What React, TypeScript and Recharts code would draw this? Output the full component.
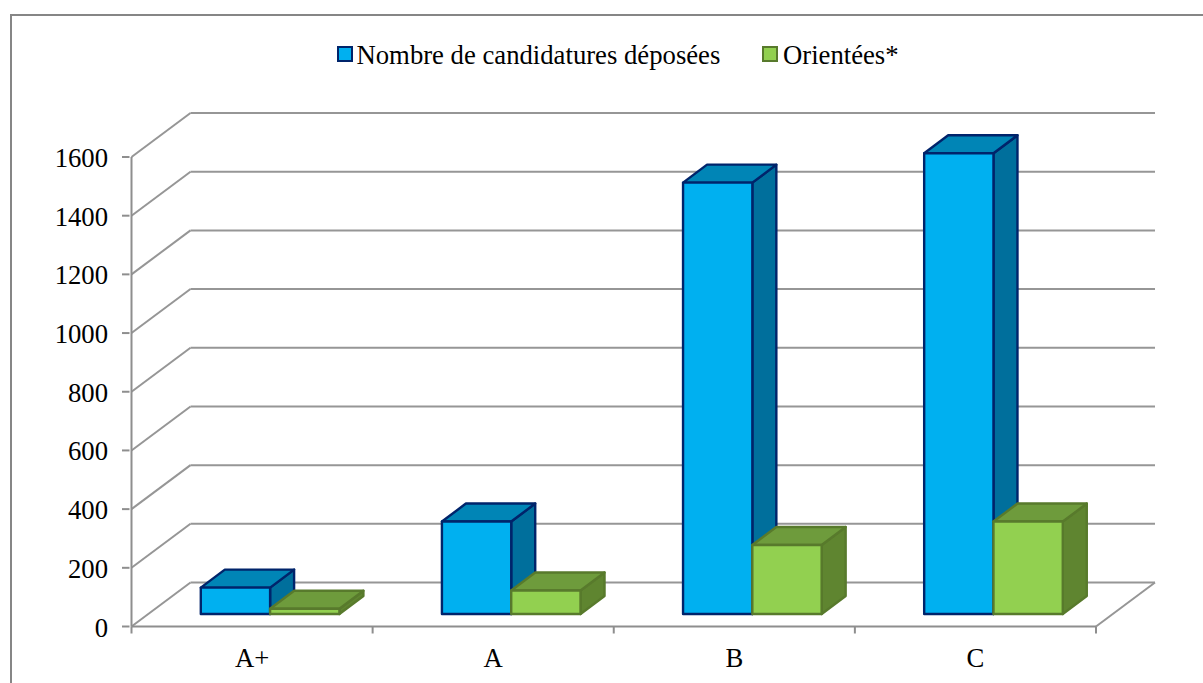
import React from 'react';
import { BarChart, Bar, XAxis, YAxis, Legend, CartesianGrid } from 'recharts';

const categories = ['A+', 'A', 'B', 'C'];
const deposees = [90, 315, 1470, 1570];
const orientees = [18, 80, 235, 315];
const yTicks = [0, 200, 400, 600, 800, 1000, 1200, 1400, 1600];
const data = categories.map((c, i) => ({ c, deposees: deposees[i], orientees: orientees[i] }));

const FONT = '"Liberation Serif", "Times New Roman", serif';
const FONT_SIZE = 26.7;
const GRID = '#969696';
const AXIS = '#8e8e8e';
const WALL_DX = 59;
const WALL_DY = -44;
const BAR_DX = 18.3;
const BAR_DY = -12.5;
const DEPTH_X = 24;
const DEPTH_Y = -18;

const BLUE = { front: '#00B0F0', top: '#0085B6', side: '#006F9C', stroke: '#00246B' };
const GREEN = { front: '#92D050', top: '#6E9B3C', side: '#5F8530', stroke: '#587A2C' };

function Box3D(props: any, c: typeof BLUE) {
  const { x, y, width, height } = props;
  const l = x + BAR_DX;
  const r = l + width;
  const t = y + BAR_DY;
  const b = t + height;
  const common = { stroke: c.stroke, strokeWidth: 2.4, strokeLinejoin: 'round' as const };
  return (
    <g>
      <polygon
        points={`${r},${t} ${r + DEPTH_X},${t + DEPTH_Y} ${r + DEPTH_X},${b + DEPTH_Y} ${r},${b}`}
        fill={c.side}
        {...common}
      />
      <polygon
        points={`${l},${t} ${l + DEPTH_X},${t + DEPTH_Y} ${r + DEPTH_X},${t + DEPTH_Y} ${r},${t}`}
        fill={c.top}
        {...common}
      />
      <rect x={l} y={t} width={width} height={height} fill={c.front} {...common} />
    </g>
  );
}

function WallLine(props: any) {
  const { x1, y1, x2, y2, index } = props;
  const bx = x1 + WALL_DX;
  const ex = x2 + WALL_DX;
  const by = y1 + WALL_DY;
  return (
    <g key={`wall-${index}-${y1}`}>
      <line x1={x1} y1={y1} x2={bx} y2={by} stroke={GRID} strokeWidth={2} />
      <line x1={bx} y1={by} x2={ex} y2={by} stroke={GRID} strokeWidth={2} />
      {Math.abs(y2 - 626.5) < 1 && (
        <line x1={x2} y1={y2} x2={ex} y2={by} stroke={GRID} strokeWidth={2} />
      )}
    </g>
  );
}

function YTick(props: any) {
  const { x, y, payload } = props;
  return (
    <g>
      <line x1={x - 1.5} y1={y} x2={x + 6} y2={y} stroke={AXIS} strokeWidth={2} />
      <text x={x - 15.5} y={y + 10} textAnchor="end" fontFamily={FONT} fontSize={FONT_SIZE} fill="#000">
        {payload.value}
      </text>
    </g>
  );
}

function XTick(props: any) {
  const { x, payload, index, visibleTicksCount, width } = props;
  const band = width / (visibleTicksCount || categories.length);
  const left = x - band / 2;
  const right = x + band / 2;
  const axisY = 626.5;
  return (
    <g>
      {index === 0 && <line x1={left} y1={axisY} x2={left} y2={axisY + 7} stroke={AXIS} strokeWidth={2} />}
      <line x1={right} y1={axisY} x2={right} y2={axisY + 7} stroke={AXIS} strokeWidth={2} />
      <text x={x} y={667} textAnchor="middle" fontFamily={FONT} fontSize={FONT_SIZE} fill="#000">
        {payload.value}
      </text>
    </g>
  );
}

function LegendContent({ payload }: any) {
  const items = payload || [];
  const colors = [BLUE, GREEN];
  const lefts = [337, 762];
  const textGaps = [19.5, 21];
  return (
    <div style={{ position: 'relative', width: 1203, height: 40, fontFamily: FONT, fontSize: FONT_SIZE, color: '#000' }}>
      {items.map((it: any, i: number) => (
        <div key={it.value} style={{ position: 'absolute', left: lefts[i], top: 0, whiteSpace: 'nowrap', lineHeight: '30px' }}>
          <span
            style={{
              position: 'absolute',
              left: 0,
              top: 6,
              width: 12,
              height: 12,
              background: colors[i].front,
              border: `2px solid ${colors[i].stroke}`,
            }}
          />
          <span style={{ marginLeft: textGaps[i] }}>{it.value}</span>
        </div>
      ))}
    </div>
  );
}

export default function App() {
  return (
    <div style={{ position: 'absolute', left: 0, top: 0, width: 1203, height: 683, overflow: 'hidden', background: '#fff' }}>
      <div style={{ position: 'absolute', left: 10, top: 14, width: 1400, height: 900, border: '2px solid #868686' }} />
      <div style={{ position: 'absolute', left: 0, top: 0 }}>
        <BarChart
          width={1203}
          height={683}
          data={data}
          margin={{ top: 157, right: 107, bottom: 0, left: 0 }}
          barSize={69.3}
          barGap={0}
        >
          <CartesianGrid vertical={false} horizontal={(p: any) => <WallLine {...p} />} />
          <XAxis
            dataKey="c"
            height={56.5}
            axisLine={{ stroke: AXIS, strokeWidth: 2 }}
            tickLine={false}
            tick={<XTick />}
            interval={0}
          />
          <YAxis
            width={131.5}
            domain={[0, 1600]}
            ticks={yTicks}
            interval={0}
            axisLine={{ stroke: AXIS, strokeWidth: 2 }}
            tickLine={false}
            tick={<YTick />}
          />
          <Legend
            verticalAlign="middle"
            layout="horizontal"
            content={<LegendContent />}
            wrapperStyle={{ top: 40, left: 0, width: 1203 }}
          />
          <Bar dataKey="deposees" name="Nombre de candidatures déposées" fill={BLUE.front} isAnimationActive={false} shape={(p: any) => Box3D(p, BLUE)} />
          <Bar dataKey="orientees" name="Orientées*" fill={GREEN.front} isAnimationActive={false} shape={(p: any) => Box3D(p, GREEN)} />
        </BarChart>
      </div>
    </div>
  );
}
